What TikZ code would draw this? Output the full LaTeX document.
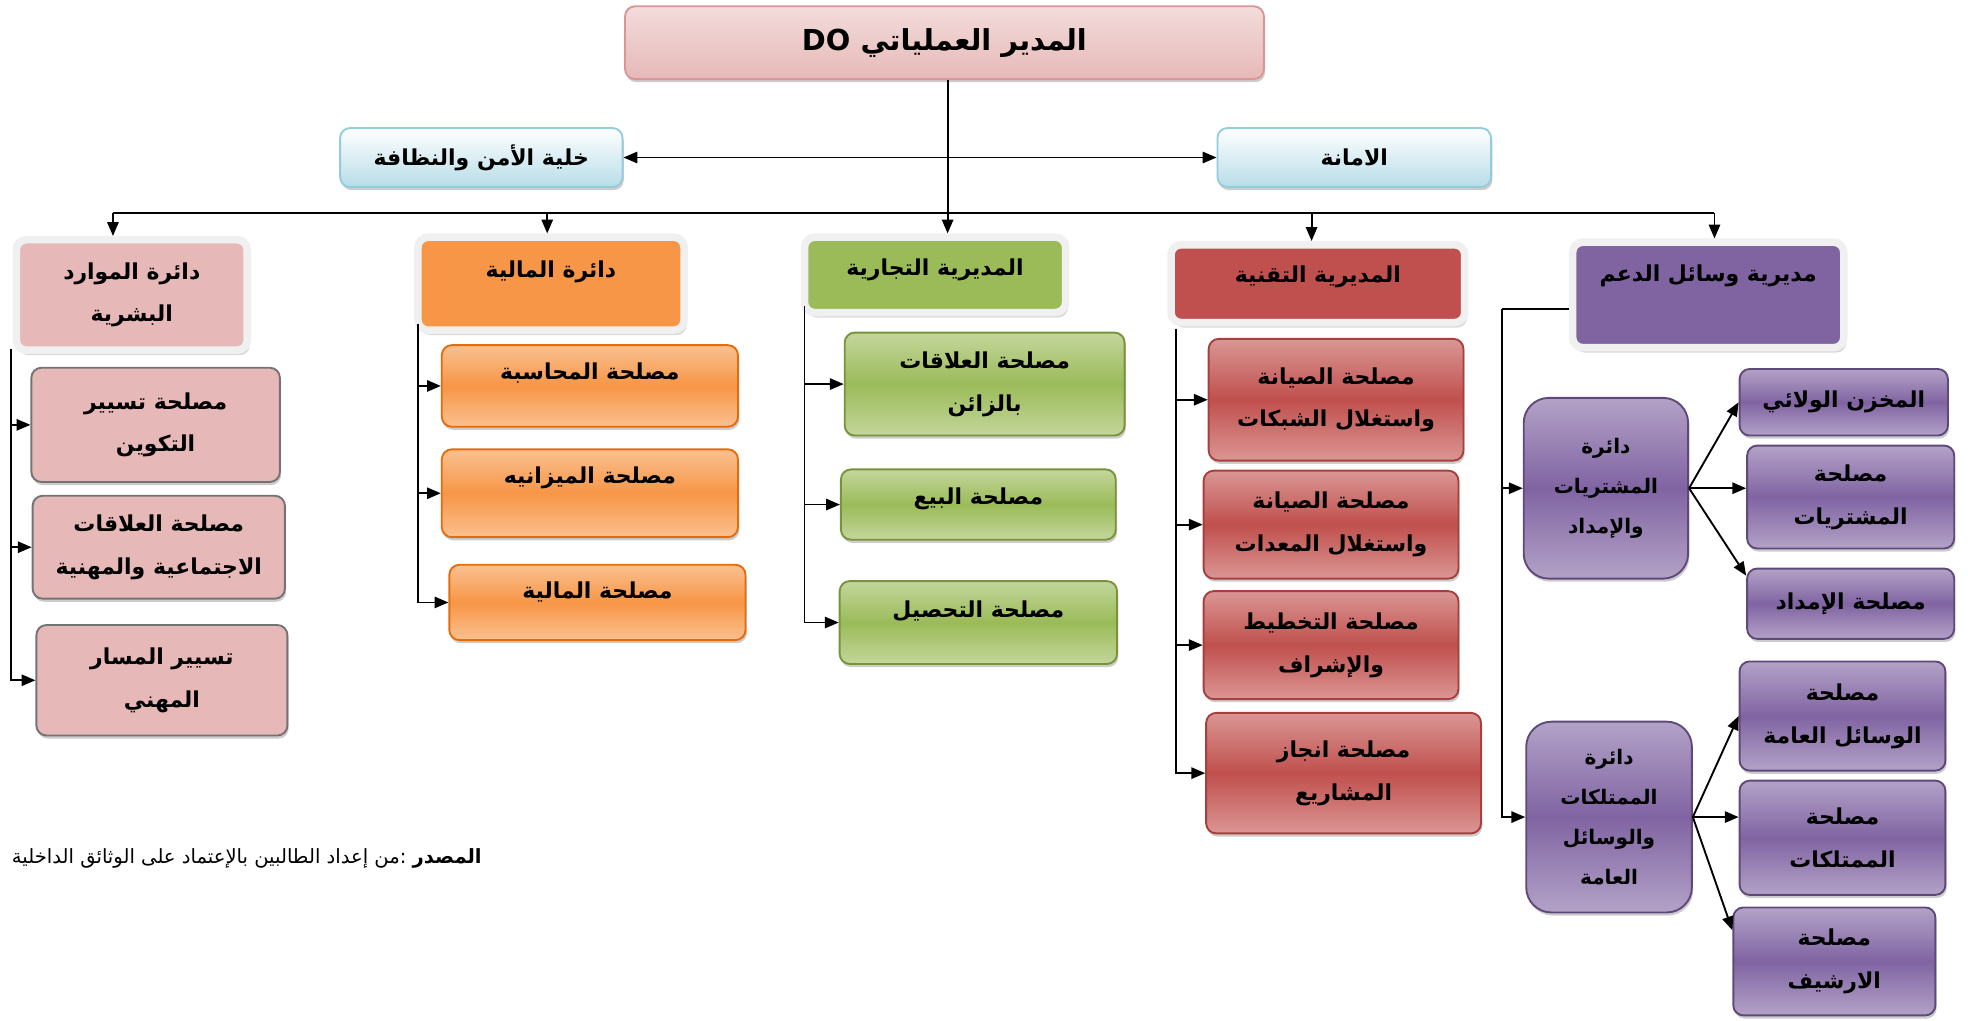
\documentclass[tikz,border=0pt]{standalone}
\usepackage{fontspec}
\usetikzlibrary{arrows.meta,shadows}
\newfontfamily\arfont[Script=Arabic]{DejaVu Sans}
\TeXXeTstate=1
\newcommand{\der}[1]{\beginR#1\endR}

\definecolor{rosa}{HTML}{E6B9B8}
\definecolor{rosaclaro}{HTML}{F2DCDB}
\definecolor{rosaborde}{HTML}{D99694}
\definecolor{azul}{HTML}{B7DDE8}
\definecolor{azulborde}{HTML}{93CDDD}
\definecolor{naranja}{HTML}{F79646}
\definecolor{naranjaclaro}{HTML}{FAC090}
\definecolor{naranjaborde}{HTML}{E46C0A}
\definecolor{verde}{HTML}{9BBB59}
\definecolor{verdeclaro}{HTML}{C3D69B}
\definecolor{verdeborde}{HTML}{77933C}
\definecolor{rojo}{HTML}{C0504D}
\definecolor{rojoclaro}{HTML}{DA9694}
\definecolor{rojoborde}{HTML}{A5403D}
\definecolor{morado}{HTML}{8064A2}
\definecolor{moradoclaro}{HTML}{B3A2C7}
\definecolor{moradoborde}{HTML}{5F497A}

\begin{document}
\begin{tikzpicture}[x=1pt, y=-1pt,
    linea/.style={line width=1.5pt},
    flecha/.style={linea, -{Triangle[length=11pt,width=9pt]}},
    doble/.style={linea, {Triangle[length=11pt,width=9pt]}-{Triangle[length=11pt,width=9pt]}},
    caja/.style={rounded corners=8pt, align=center, inner sep=2pt,
      font=\arfont\bfseries\fontsize{17.5}{34}\selectfont,
      drop shadow={shadow xshift=1pt, shadow yshift=-2.5pt, opacity=.4}},
    jefe/.style={caja, draw=rosaborde, line width=1.5pt, top color=rosaclaro, bottom color=rosa,
      font=\arfont\bfseries\fontsize{23}{28}\selectfont},
    celda/.style={caja, draw=azulborde, line width=1.5pt, top color=white, bottom color=azul},
    dir/.style={caja, draw=black!6, line width=6pt, fill=#1,
      drop shadow={shadow xshift=2pt, shadow yshift=-4pt, opacity=.3}},
    plano/.style={caja, draw=black!55, line width=1.5pt, fill=rosa},
    brillo/.style={caja, draw=#1borde, line width=1.5pt,
      top color=#1claro, bottom color=#1claro, middle color=#1},
    depto/.style={brillo=morado, rounded corners=20pt,
      font=\arfont\bfseries\fontsize{16}{32}\selectfont},
    sube/.style={text depth=#1}]

\useasboundingbox (0,0) rectangle (1568,813);

% direccion
\node[jefe, minimum width=509pt, minimum height=58pt] (do) at (752.5,34) {\der{المدير العملياتي DO}};
\node[celda, minimum width=225pt, minimum height=47pt] (seg) at (383.5,125.5) {\der{خلية الأمن والنظافة}};
\node[celda, minimum width=218pt, minimum height=47pt] (am) at (1079,125.5) {\der{الامانة}};

% direcciones y dependencias
\node[dir=rosa, minimum width=184pt, minimum height=88pt] (rh) at (105,235) {\der{دائرة الموارد}\\\der{البشرية}};
\node[dir=naranja, sube=23pt, minimum width=212pt, minimum height=74pt] (fin) at (439,226) {\der{دائرة المالية}};
\node[dir=verde, sube=13pt, minimum width=208pt, minimum height=60pt] (com) at (745,219) {\der{المديرية التجارية}};
\node[dir=rojo, sube=15pt, minimum width=234pt, minimum height=62pt] (tec) at (1050,226) {\der{المديرية التقنية}};
\node[dir=morado, sube=35pt, minimum width=216pt, minimum height=84pt] (sop) at (1361,235) {\der{مديرية وسائل الدعم}};

% recursos humanos
\node[plano, minimum width=198pt, minimum height=91pt] (rh1) at (124,338.5) {\der{مصلحة تسيير}\\\der{التكوين}};
\node[plano, minimum width=201pt, minimum height=82pt] (rh2) at (126.5,436) {\der{مصلحة العلاقات}\\\der{الاجتماعية والمهنية}};
\node[plano, minimum width=200pt, minimum height=88pt] (rh3) at (129,542) {\der{تسيير المسار}\\\der{المهني}};

% finanzas
\node[brillo=naranja, sube=23pt, minimum width=236pt, minimum height=65pt] (fin1) at (470,307.5) {\der{مصلحة المحاسبة}};
\node[brillo=naranja, sube=29pt, minimum width=236pt, minimum height=70pt] (fin2) at (470,393) {\der{مصلحة الميزانيه}};
\node[brillo=naranja, sube=19pt, minimum width=236pt, minimum height=60pt] (fin3) at (476,480) {\der{مصلحة المالية}};

% comercial
\node[brillo=verde, minimum width=223pt, minimum height=82pt] (com1) at (784.5,306) {\der{مصلحة العلاقات}\\\der{بالزائن}};
\node[brillo=verde, sube=13pt, minimum width=219pt, minimum height=56pt] (com2) at (779.5,402) {\der{مصلحة البيع}};
\node[brillo=verde, sube=21pt, minimum width=221pt, minimum height=66pt] (com3) at (779.5,496) {\der{مصلحة التحصيل}};

% tecnica
\node[brillo=rojo, minimum width=203pt, minimum height=97pt] (tec1) at (1064.5,318.5) {\der{مصلحة الصيانة}\\\der{واستغلال الشبكات}};
\node[brillo=rojo, minimum width=203pt, minimum height=86pt] (tec2) at (1060.5,418) {\der{مصلحة الصيانة}\\\der{واستغلال المعدات}};
\node[brillo=rojo, minimum width=203pt, minimum height=86pt] (tec3) at (1060.5,514) {\der{مصلحة التخطيط}\\\der{والإشراف}};
\node[brillo=rojo, minimum width=219pt, minimum height=96pt] (tec4) at (1070.5,616) {\der{مصلحة انجاز}\\\der{المشاريع}};

% soporte
\node[depto, minimum width=131pt, minimum height=144pt] (pm) at (1279.5,389) {\der{دائرة}\\\der{المشتريات}\\\der{والإمداد}};
\node[depto, minimum width=132pt, minimum height=152pt] (mv) at (1282,651) {\der{دائرة}\\\der{الممتلكات}\\\der{والوسائل}\\\der{العامة}};
\node[brillo=morado, minimum width=166pt, minimum height=53pt] (pm1) at (1469,320.5) {\der{المخزن الولائي}};
\node[brillo=morado, minimum width=165pt, minimum height=82pt] (pm2) at (1474.5,396) {\der{مصلحة}\\\der{المشتريات}};
\node[brillo=morado, minimum width=165pt, minimum height=56pt] (pm3) at (1474.5,481) {\der{مصلحة الإمداد}};
\node[brillo=morado, minimum width=164pt, minimum height=87pt] (mv1) at (1468,570.5) {\der{مصلحة}\\\der{الوسائل العامة}};
\node[brillo=morado, minimum width=164pt, minimum height=91pt] (mv2) at (1468,667.5) {\der{مصلحة}\\\der{الممتلكات}};
\node[brillo=morado, minimum width=161pt, minimum height=86pt] (mv3) at (1461.5,766) {\der{مصلحة}\\\der{الارشيف}};

% fuente
\node[anchor=east, inner sep=0pt, font=\arfont\fontsize{15.6}{18}\selectfont] (fuente) at (384,684)
  {\der{{\bfseries المصدر} :من إعداد الطالبين بالإعتماد على الوثائق الداخلية}};

% conexiones
\coordinate (b1) at (90,170);
\coordinate (b2) at (436,170);
\coordinate (b3) at (755,170);
\coordinate (b4) at (1045,170);
\coordinate (b5) at (1366,170);
\draw[flecha] (do.south -| b3) -- (b3 |- com.north);
\draw[doble] (seg.east) -- (am.west);
\draw[linea] (b1) -- (b5);
\draw[flecha] (b1) -- (b1 |- rh.north);
\draw[flecha] (b2) -- (b2 |- fin.north);
\draw[flecha] (b4) -- (b4 |- tec.north);
\draw[flecha] (b5) -- (b5 |- sop.north);

\coordinate (rhv) at (9,278);
\coordinate (finv) at (333,258);
\coordinate (comv) at (641,244);
\coordinate (tecv) at (937,262);
\coordinate (sopv) at (1197,246);
\foreach \h in {rh1,rh2,rh3} \draw[flecha] (rhv) |- (\h.west);
\foreach \h in {fin1,fin2,fin3} \draw[flecha] (finv) |- (\h.west);
\foreach \h in {com1,com2,com3} \draw[flecha] (comv) |- (\h.west);
\foreach \h in {tec1,tec2,tec3,tec4} \draw[flecha] (tecv) |- (\h.west);
\draw[linea] (sop.west |- sopv) -- (sopv);
\draw[flecha] (sopv) |- (pm.west);
\draw[flecha] (sopv) |- (mv.west);

\draw[flecha] (pm.east) -- (pm1.west);
\draw[flecha] (pm.east) -- (pm.east -| pm2.west);
\draw[flecha] (pm.east) -- (pm3.165);
\draw[flecha] (mv.east) -- (mv1.west);
\draw[flecha] (mv.east) -- (mv.east -| mv2.west);
\draw[flecha] (mv.east) -- (mv3.163);
\end{tikzpicture}
\end{document}
